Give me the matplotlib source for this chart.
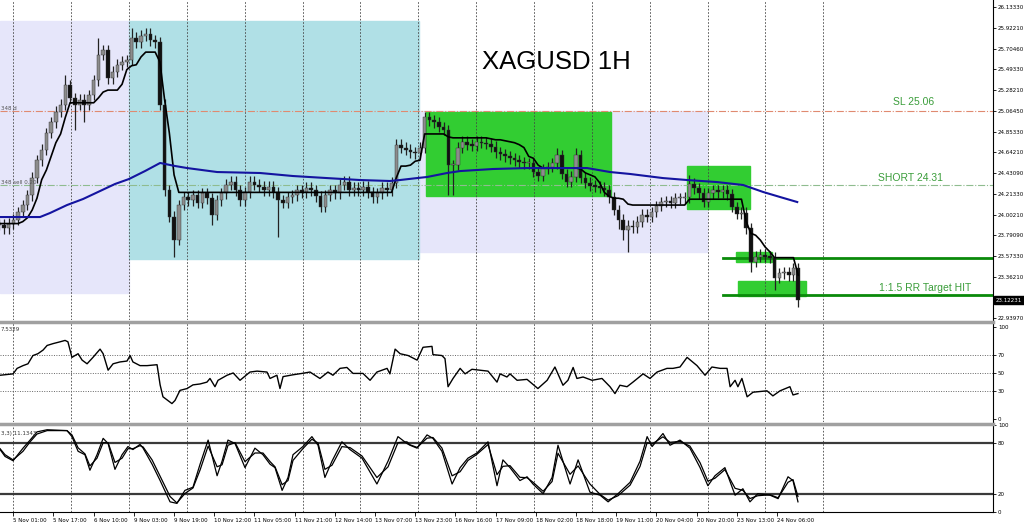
import numpy as np
import matplotlib.pyplot as plt
import matplotlib.transforms as mtransforms
from matplotlib.patches import Rectangle

# x axis = hours (bars) counted from 5 Nov 01:00, price samples every 2 hours
bar_hours = np.arange(-6, 334, 2)

closes = [23.90, 23.86, 23.91, 23.95, 24.03, 24.10, 24.20, 24.38, 24.56, 24.67,
          24.84, 24.95, 25.06, 25.13, 25.33, 25.20, 25.13, 25.18, 25.13, 25.23,
          25.38, 25.64, 25.69, 25.40, 25.47, 25.54, 25.57, 25.59, 25.82, 25.77,
          25.84, 25.86, 25.79, 25.77, 25.13, 24.25, 23.98, 23.74, 24.10, 24.18,
          24.15, 24.20, 24.12, 24.22, 24.17, 24.00, 24.15, 24.22, 24.31, 24.34,
          24.25, 24.15, 24.23, 24.34, 24.31, 24.29, 24.25, 24.29, 24.23, 24.15,
          24.12, 24.18, 24.20, 24.25, 24.23, 24.28, 24.25, 24.19, 24.08, 24.20,
          24.25, 24.22, 24.31, 24.34, 24.25, 24.28, 24.25, 24.29, 24.23, 24.18,
          24.22, 24.28, 24.25, 24.33, 24.72, 24.69, 24.67, 24.64, 24.63, 24.69,
          25.00, 24.97, 24.95, 24.90, 24.87, 24.51, 24.51, 24.69, 24.75, 24.72,
          24.71, 24.75, 24.74, 24.73, 24.70, 24.64, 24.62, 24.60, 24.58, 24.56,
          24.54, 24.53, 24.53, 24.44, 24.40, 24.47, 24.49, 24.53, 24.61, 24.42,
          24.34, 24.39, 24.61, 24.38, 24.33, 24.30, 24.29, 24.28, 24.25, 24.18,
          24.05, 23.95, 23.84, 23.89, 23.87, 23.93, 24.00, 23.98, 24.03, 24.09,
          24.13, 24.14, 24.12, 24.17, 24.17, 24.18, 24.32, 24.27, 24.22, 24.13,
          24.22, 24.25, 24.23, 24.25, 24.21, 24.08, 24.01, 24.02, 23.86, 23.52,
          23.57, 23.59, 23.57, 23.56, 23.35, 23.40, 23.41, 23.38, 23.45, 23.12231]

low_spikes = {16: 24.87, 18: 24.95, 37: 23.57, 45: 23.90, 59: 23.77, 68: 24.03,
              95: 24.20, 96: 24.20, 131: 23.85, 132: 23.74, 133: 23.62,
              159: 23.41, 164: 23.23, 169: 23.05}
high_spikes = {14: 25.44, 21: 25.82, 28: 25.92, 84: 24.76, 90: 25.05,
               118: 24.69, 122: 24.69, 146: 24.41, 168: 23.51}

# trailing stop line (black)
trail = ([23.91] * 5 + [23.93, 23.97, 24.05, 24.17, 24.36, 24.46, 24.60, 24.74, 24.83, 25.00]
         + [25.15] * 6 + [25.20, 25.26] + [25.28] * 3
         + [25.34, 25.49, 25.53, 25.54, 25.62] + [25.67] * 3
         + [25.57, 25.18, 24.84, 24.41] + [24.23] * 46
         + [24.38, 24.50, 24.50, 24.51, 24.55, 24.56] + [24.83] * 5
         + [24.80] + [24.79] * 8 + [24.78, 24.77, 24.77, 24.76, 24.75, 24.74, 24.72, 24.69,
                                   24.60, 24.58, 24.51] + [24.48] * 8
         + [24.47, 24.43, 24.41, 24.39, 24.33, 24.23, 24.19, 24.17, 24.17, 24.16, 24.11]
         + [24.10] * 12 + [24.16] * 12
         + [23.93, 23.81, 23.79, 23.74, 23.67, 23.62] + [23.56] * 5 + [23.38])

# moving average (blue)
ma_hours = [-5.6, 11.3, 15.5, 22.7, 29.5, 36.7, 43, 48.9, 55.7, 62.1, 68.4, 73.5, 86.2,
            104.4, 118.3, 132.7, 146.6, 159.3, 163.6, 170.8, 175, 183.5, 189, 202.9,
            217.3, 242.7, 252.4, 260.9, 274.8, 285, 297.7, 308.7, 317.2, 324.4, 331.6]
ma_vals = [23.977, 23.977, 24.018, 24.100, 24.162, 24.244, 24.316, 24.367, 24.449, 24.532,
           24.501, 24.480, 24.439, 24.429, 24.398, 24.377, 24.357, 24.347, 24.357, 24.377,
           24.388, 24.429, 24.449, 24.470, 24.480, 24.480, 24.439, 24.419, 24.377, 24.357,
           24.336, 24.306, 24.234, 24.182, 24.131]

rsi_hours = [-5.6, -0.1, 1.6, 4.1, 6.2, 8.3, 10.4, 12.6, 14.3, 16.8, 19.8, 21.9, 23.1,
             24.8, 27.4, 29.1, 31.2, 33.7, 36.7, 38, 40.1, 42.2, 45.1, 48.1, 49.4, 50.6,
             53.6, 56.6, 60.8, 62.1, 63.3, 67.1, 68.4, 70.5, 73.5, 76, 79, 81.9, 83.2,
             85.3, 86.6, 90.4, 93, 95.9, 100.1, 103.1, 107.3, 108.6, 111.5, 112.8, 114.1,
             118.3, 122.1, 125.5, 129.7, 133.1, 135.2, 138.2, 141.1, 143.7, 147.9, 150.9,
             153.8, 158.1, 159.3, 161.5, 163.6, 167, 170.8, 173.3, 177.1, 177.5, 181.3,
             182.6, 183.9, 186, 189, 191.1, 194, 197.4, 200.8, 204.6, 205.9, 208.8, 210.1,
             213.1, 217.3, 221.9, 225.8, 229.1, 232.5, 234.6, 236.8, 238.4, 241, 244.8,
             249, 252.4, 254.5, 256.6, 259.6, 262.1, 266.4, 269.3, 272.3, 276.5, 279, 282,
             285, 289.2, 292.6, 295.5, 299, 301.9, 303.2, 305.3, 306.5, 308.2, 310.4,
             312.9, 318.8, 321.3, 324.3, 328.5, 329.8, 331.9]
rsi_vals = [47.5, 49, 55, 58, 60, 69, 71, 75, 80, 82, 84, 85.5, 84,
            67, 71, 64, 60, 67, 76, 71, 53, 60, 62, 63, 69, 62,
            58, 58, 59, 37, 24, 16.6, 20, 31, 33, 37, 38, 40, 44,
            35, 42, 47.5, 50, 42, 51, 52, 51, 44, 47.5, 33, 46,
            48, 49.5, 51, 44, 51, 47.5, 55, 56, 49.5, 49.5, 42,
            51, 55, 49, 76, 71, 69, 64, 78, 79, 70, 69,
            65.6, 35, 44, 55, 49, 54, 53, 52, 40, 49, 45.6, 49,
            42, 43, 33, 42, 56.5, 36.6, 42, 56, 44, 45.6, 42,
            44, 35, 27.5, 36.6, 35, 40, 49, 44, 51, 55, 55, 56.5,
            67, 58, 47.5, 56.5, 55, 55, 35, 42, 35, 44, 24,
            29, 30.5, 25, 30.5, 35, 26, 27.5]

stoch_hours = [-5.6, -3.5, -0.1, 4.1, 7.1, 10.0, 14.3, 22.7, 24.8, 27.4, 30.3, 32.4, 35.4,
               38, 40.1, 43, 46, 48.5, 50.6, 53.6, 54.9, 58.7, 62.1, 66.3, 69.2, 72.6, 76,
               79, 82.4, 86.2, 88.3, 90.8, 93.8, 98, 102.2, 105.6, 108.6, 110.7, 113.7,
               116.2, 118.3, 122.5, 126.3, 128.9, 131.8, 134.8, 139, 142.4, 147.5, 153.8,
               158.5, 162.7, 166.5, 167.8, 170.8, 175, 177.5, 181.3, 185.6, 189, 192.3,
               196.1, 200.8, 204.6, 207.1, 210.1, 214.3, 217.3, 219.8, 224.1, 227.9, 230.4,
               235.5, 238.9, 243.9, 248.2, 251.6, 255.8, 260.9, 265.1, 268.1, 270.2, 274.8,
               277.8, 282, 286.2, 290.5, 293.8, 296.8, 301, 305.3, 308.6, 311.6, 314.9,
               320.1, 323.5, 327.7, 329.8, 331.9]
stoch_k = [72, 64, 59, 73.6, 83, 92.5, 95, 94, 87, 70, 66, 48, 66,
           85, 79, 49, 66, 75.5, 72, 78, 73.6, 55, 36, 11.3, 9.5, 24.6, 28.3,
           55, 83, 41.6, 58.5, 83, 79, 51, 73.6, 66, 55, 51, 24.6,
           39.6, 66, 75.5, 87, 77, 39.6, 58.5, 81, 72, 62, 32,
           58.5, 87, 79, 77, 73.6, 89, 85, 70, 32, 51, 62,
           68, 81, 30, 60, 51, 36, 40.4, 32, 20.8, 39.6, 77,
           32, 60, 22.6, 19, 11.3, 20.8, 34, 58.5, 87, 75.5, 90.6,
           77, 83, 73.6, 51, 30, 41.6, 51, 19, 26.5, 11.3, 20.8,
           19, 15, 40.4, 36, 11.3]
stoch_d = [73, 66, 60, 70, 81, 90, 94, 94, 89, 74, 67, 53, 62,
           80, 80, 57, 62, 73, 73, 76.5, 75, 60, 41, 17.5, 10, 21, 27.4,
           48.3, 76, 52, 54.3, 77, 80, 58, 68, 68, 58, 52, 31.2,
           36, 59.4, 73.1, 84, 79.5, 49, 53.8, 75.4, 74.3, 64.5, 39.5,
           51.9, 80, 81, 77.5, 74.5, 85.2, 86, 73.8, 41.5, 46.3, 59.3,
           66.5, 77.8, 42.8, 52.5, 53.3, 39.8, 39.3, 34.1, 23.6, 34.9, 67.7,
           43.3, 53, 32, 19.9, 13.3, 18.4, 30.7, 52.4, 80, 78.4, 86.8,
           80.4, 81.5, 76, 56.7, 35.3, 38.7, 48.7, 27, 24.6, 15.1, 18.4,
           19.5, 16, 34, 37.1, 17.5]

# zones drawn on chart: (start hour, end hour, low price, high price)
lavender_zones = [(-5.6, 48.9, 23.20, 25.99), (171.6, 293.4, 23.62, 25.065)]
blue_zone = (48.9, 171.6, 23.546, 25.99)
green_zones = [(174.6, 252.8, 24.19, 25.055), (285, 311.6, 24.06, 24.50),
               (305.7, 320.9, 23.515, 23.62), (306.5, 335.3, 23.166, 23.32)]
target_levels = [23.56, 23.18]
target_start = 300.2
sl_level = 25.0645
short_level = 24.306
last_price = 23.12231

price_ticks = [26.13330, 25.92210, 25.70460, 25.49330, 25.28210, 25.06450, 24.85330,
               24.64210, 24.43090, 24.21330, 24.00210, 23.79090, 23.57330, 23.36210, 22.93970]
time_labels = ["5 Nov 01:00", "5 Nov 17:00", "6 Nov 10:00", "9 Nov 03:00", "9 Nov 19:00",
               "10 Nov 12:00", "11 Nov 05:00", "11 Nov 21:00", "12 Nov 14:00", "13 Nov 07:00",
               "13 Nov 23:00", "16 Nov 16:00", "17 Nov 09:00", "18 Nov 02:00", "18 Nov 18:00",
               "19 Nov 11:00", "20 Nov 04:00", "20 Nov 20:00", "23 Nov 13:00", "24 Nov 06:00"]
label_hours = np.arange(len(time_labels)) * 17
grid_hours = np.arange(0, 345, 24.47)

# ---------------------------------------------------------------
W, H = 1024, 525
fig = plt.figure(figsize=(W / 100, H / 100), dpi=100)
axw = 993 / W
ax = fig.add_axes([0, 1 - 320 / H, axw, 320 / H])
ar = fig.add_axes([0, 1 - 422 / H, axw, 99 / H], sharex=ax)
ast = fig.add_axes([0, 1 - 512 / H, axw, 87 / H], sharex=ax)

small = 4.0
for a in (ax, ar, ast):
    for s in ("top", "left", "bottom"):
        a.spines[s].set_visible(False)
    a.spines["right"].set_linewidth(0.8)
    a.yaxis.tick_right()
    a.tick_params(axis="y", labelsize=small, length=2.5, pad=1.0, width=0.6)
    a.tick_params(axis="x", length=0)
    for gh in grid_hours:
        a.axvline(gh, color="#444444", lw=0.6, ls=(0, (2, 2)), zorder=1)
ast.spines["bottom"].set_visible(True)
ast.spines["bottom"].set_linewidth(0.8)
ax.set_xlim(-5.63, 414.4)

# --- main price panel ---
for x0, x1, y0, y1 in lavender_zones:
    ax.add_patch(Rectangle((x0, y0), x1 - x0, y1 - y0, color="#E6E6FA", zorder=0))
x0, x1, y0, y1 = blue_zone
ax.add_patch(Rectangle((x0, y0), x1 - x0, y1 - y0, color="#B0E0E6", zorder=0))
for x0, x1, y0, y1 in green_zones:
    ax.add_patch(Rectangle((x0, y0), x1 - x0, y1 - y0, color="#32CD32", zorder=0.5))

ax.axhline(sl_level, color="#E08A70", lw=0.8, ls="-.", zorder=1)
ax.axhline(short_level, color="#8FBC8F", lw=0.8, ls="-.", zorder=1)
for lv in target_levels:
    ax.plot([target_start, 414.4], [lv, lv], color="#0A8A0A", lw=2, zorder=2)

c = np.array(closes)
o = np.concatenate([[c[0]], c[:-1]])
hi = np.maximum(o, c) + 0.055
lo = np.minimum(o, c) - 0.055
for i, v in high_spikes.items():
    hi[i] = max(hi[i], v)
for i, v in low_spikes.items():
    lo[i] = min(lo[i], v)
ax.vlines(bar_hours, lo, hi, color="#222222", lw=0.9, zorder=3)
up = c >= o
body = np.maximum(np.abs(c - o), 0.012)
ax.bar(bar_hours, body, bottom=np.minimum(o, c), width=1.5,
       color=np.where(up, "#8c8c8c", "#111111"), edgecolor="#303030", lw=0.3, zorder=3)

ax.plot(bar_hours, trail, color="black", lw=1.2, zorder=4)
ax.plot(ma_hours, ma_vals, color="#1414A0", lw=1.5, zorder=4)

ax.set_ylim(22.92, 26.205)
ax.set_yticks(price_ticks, [f"{t:.5f}" for t in price_ticks])
trans = mtransforms.blended_transform_factory(ax.transAxes, ax.transData)
ax.text(1.003, last_price, f"{last_price:.5f}", transform=trans, fontsize=small,
        color="white", va="center", ha="left",
        bbox=dict(boxstyle="square,pad=0.3", fc="black", ec="black"))

ax.text(0.56, 0.806, "XAGUSD 1H", transform=ax.transAxes, fontsize=18.5,
        family="Liberation Sans", ha="center", va="center")
note_kw = dict(fontsize=7.5, family="Liberation Sans", color="#3a9d3a", ha="center", va="center")
ax.text(380.6, 25.16, "SL 25.06", **note_kw)
ax.text(379.3, 24.38, "SHORT 24.31", **note_kw)
ax.text(385.6, 23.25, "1:1.5 RR Target HIT", **note_kw)
ax.text(-5.4, 25.09, "348 d", fontsize=small, color="#555555", va="center")
ax.text(-5.4, 24.33, "348 sell 0.20", fontsize=small, color="#555555", va="center")

# --- RSI panel ---
for lv in (70, 50, 30):
    ar.axhline(lv, color="#666666", lw=0.7, ls=(0, (1, 1.5)), zorder=1)
ar.plot(rsi_hours, rsi_vals, color="black", lw=1.0, zorder=3)
ar.set_ylim(-3.5, 104.5)
ar.set_yticks([100, 70, 50, 30, 0])
ar.text(0.001, 0.93, "7.5329", transform=ar.transAxes, fontsize=small, color="#333333", va="center")

# --- stochastic panel ---
for lv in (80, 20):
    ast.axhline(lv, color="#3a3a3a", lw=1.6, zorder=1)
ast.plot(stoch_hours, stoch_k, color="black", lw=0.9, zorder=3)
ast.plot(stoch_hours, stoch_d, color="black", lw=0.9, zorder=3)
ast.set_ylim(-0.5, 100.5)
ast.set_yticks([100, 80, 20, 0])
ast.text(0.001, 0.90, "3,3) 11.1343", transform=ast.transAxes, fontsize=small, color="#333333", va="center")

plt.setp(ax.get_xticklabels(), visible=False)
plt.setp(ar.get_xticklabels(), visible=False)
ast.set_xticks(label_hours, time_labels)
ast.tick_params(axis="x", labelsize=small, length=3, width=0.6, pad=1.5)
for lab in ast.get_xticklabels():
    lab.set_horizontalalignment("left")

# panel separators
for yy in (321.5, 423.5):
    fig.add_artist(plt.Line2D([0, axw], [1 - yy / H] * 2, color="#a0a0a0", lw=2.5,
                              transform=fig.transFigure))

fig.savefig("out.png", dpi=100)
